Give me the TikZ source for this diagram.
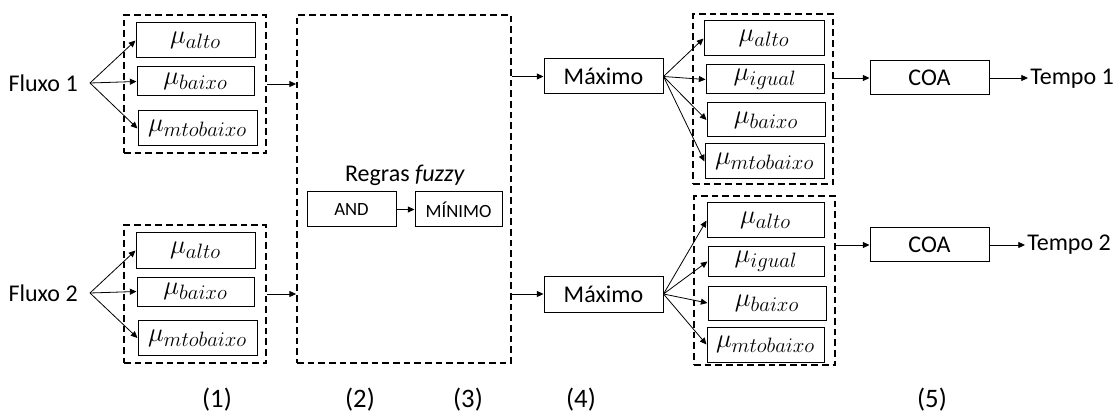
\documentclass[tikz,border=0pt]{standalone}
\usepackage{fix-cm}
\usepackage{fontspec}
\setmainfont{Carlito}
\DeclareMathSizes{20}{20}{15.6}{12}
\usetikzlibrary{arrows.meta}
\begin{document}
\begin{tikzpicture}[x=0.75pt, y=-0.75pt,
  txt/.style={font=\fontsize{18}{21}\selectfont, inner sep=0pt},
  steplbl/.style={font=\fontsize{20}{24}\selectfont, inner sep=0pt},
  cell/.style 2 args={draw, line width=0.75pt, minimum width=#1*0.75pt,
    minimum height=#2*0.75pt, inner sep=0pt, font=\fontsize{18}{21}\selectfont},
  mucell/.style 2 args={cell={#1}{#2}, font=\fontsize{20}{24}\selectfont},
  opcell/.style 2 args={cell={#1}{#2}, font=\fontsize{14}{17}\selectfont},
  group/.style 2 args={draw, line width=1.4pt, dash pattern=on 5pt off 3pt,
    minimum width=#1*0.75pt, minimum height=#2*0.75pt, inner sep=0pt},
  arr/.style={-{Triangle[length=5pt,width=4.5pt]}, line width=0.6pt},
]
\useasboundingbox (0,0) rectangle (1120,413);

% ---------- inputs and fuzzification (1) ----------
\node[group={142}{138}] (g1) at (195,84) {};
\node[mucell={119}{35}] (a1) at (195.5,40.5) {$\mu_{alto}$};
\node[mucell={117}{29}] (b1) at (195.5,81.5) {$\mu_{baixo}$};
\node[mucell={119}{35}] (m1) at (197.5,128.5) {$\mu_{mtobaixo}$};
\node[txt, anchor=east, inner xsep=9pt] (f1) at (90,83) {Fluxo 1};

\node[group={142}{138}] (g2) at (195,294) {};
\node[mucell={119}{35}] (a2) at (195.5,250.5) {$\mu_{alto}$};
\node[mucell={117}{29}] (b2) at (195.5,291.5) {$\mu_{baixo}$};
\node[mucell={119}{35}] (m2) at (197.5,338) {$\mu_{mtobaixo}$};
\node[txt, anchor=east, inner xsep=9pt] (f2) at (90,293) {Fluxo 2};

\foreach \f/\s in {f1/1, f2/2}{
  \draw[arr] (\f.east) -- (a\s.west);
  \draw[arr] (\f.east) -- (b\s.west);
  \draw[arr] (\f.east) -- (m\s.west);
}

% ---------- fuzzy rules (2) and (3) ----------
\node[group={214}{348}] (R) at (404,189) {};
\node[txt] (rg) at (405,175) {Regras \textit{fuzzy}};
\node[opcell={89}{35}] (and) at (351.5,209.5) {AND};
\node[opcell={87}{35}] (min) at (458.5,209.5) {MÍNIMO};
\draw[arr] (and) -- (min);

\draw[arr] (g1.east) -- (g1.east -| R.west);
\draw[arr] (g2.east) -- (g2.east -| R.west);

% ---------- aggregation (4) ----------
\node[cell={119}{35}] (mx1) at (603.5,76.5) {Máximo};
\node[cell={119}{36}] (mx2) at (603.5,294) {Máximo};
\draw[arr] (mx1.west -| R.east) -- (mx1.west);
\draw[arr] (mx2.west -| R.east) -- (mx2.west);

% ---------- output sets and defuzzification (5) ----------
\node[group={140}{170}] (g3) at (763,99) {};
\node[mucell={120}{35}] (oa1) at (764,38.5) {$\mu_{alto}$};
\node[mucell={118}{29}] (oi1) at (765,79.5) {$\mu_{igual}$};
\node[mucell={118}{34}] (ob1) at (766,120) {$\mu_{baixo}$};
\node[mucell={119}{35}] (om1) at (764.5,161.5) {$\mu_{mtobaixo}$};

\node[group={141}{169}] (g4) at (764.5,280.5) {};
\node[mucell={117}{35}] (oa2) at (765.5,220.5) {$\mu_{alto}$};
\node[mucell={116}{29}] (oi2) at (766,261.5) {$\mu_{igual}$};
\node[mucell={118}{34}] (ob2) at (767,303) {$\mu_{baixo}$};
\node[mucell={117}{35}] (om2) at (765.5,344.5) {$\mu_{mtobaixo}$};

\foreach \s in {1,2}{
  \draw[arr] (mx\s.east) -- (oa\s.west);
  \draw[arr] (mx\s.east) -- (oi\s.west);
  \draw[arr] (mx\s.east) -- (ob\s.west);
  \draw[arr] (mx\s.east) -- (om\s.west);
}

\node[cell={119}{34}] (c1) at (929.5,78) {COA};
\node[cell={119}{34}] (c2) at (929.5,245) {COA};
\draw[arr] (c1.west -| g3.east) -- (c1.west);
\draw[arr] (c2.west -| g4.east) -- (c2.west);

\node[txt, anchor=west, inner xsep=1.5pt] (t1) at (1028,79) {Tempo 1};
\node[txt, anchor=west, inner xsep=1.5pt] (t2) at (1025,245) {Tempo 2};
\draw[arr] (c1.east) -- (t1.west |- c1.east);
\draw[arr] (c2.east) -- (t2.west |- c2.east);

% ---------- stage numbers ----------
\node[steplbl] (s1) at (217,400) {(1)};
\node[steplbl] (s2) at (360,400) {(2)};
\node[steplbl] (s3) at (468,400) {(3)};
\node[steplbl] (s4) at (581,400) {(4)};
\node[steplbl] (s5) at (932,400) {(5)};
\end{tikzpicture}
\end{document}
